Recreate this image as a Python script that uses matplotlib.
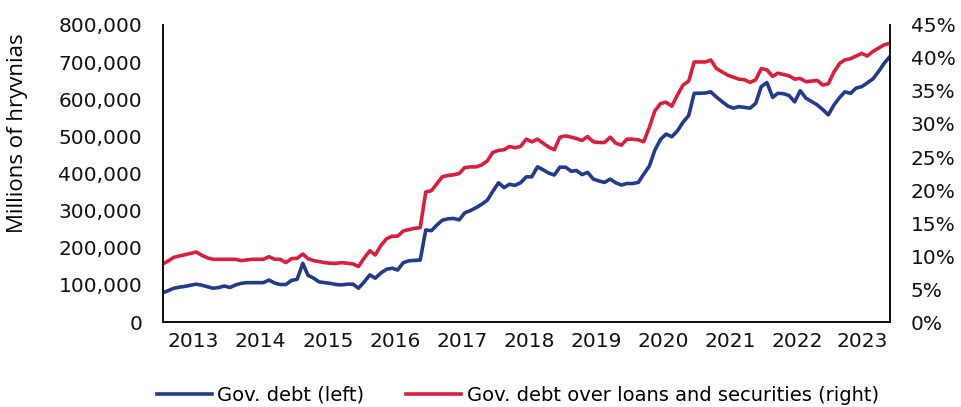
#!/usr/bin/env python

import numpy as np
import pandas as pd
import matplotlib
matplotlib.use('Agg')
import matplotlib.pyplot as plt
from matplotlib.ticker import FuncFormatter, MultipleLocator

# monthly, Jan 2013 .. Nov 2023
# government debt, thousands of millions of hryvnias (scaled below)
gov_debt_k = [
    79, 85, 91, 94, 96, 99, 102, 99, 95, 91, 93, 97,            # 2013
    93, 100, 104, 106, 106, 106, 106, 113, 105, 101, 101, 112,  # 2014
    115, 158, 126, 118, 108, 106, 104, 101, 100, 102, 102, 91,  # 2015
    108, 127, 118, 132, 142, 145, 140, 160, 165, 166, 167, 248, # 2016
    246, 262, 274, 278, 279, 275, 294, 300, 308, 317, 328, 352, # 2017
    375, 362, 371, 368, 375, 391, 391, 418, 410, 401, 396, 417, # 2018
    417, 406, 408, 397, 403, 385, 380, 376, 385, 375, 369, 373, # 2019
    373, 376, 398, 420, 463, 492, 506, 499, 515, 538, 556, 616, # 2020
    616, 617, 620, 606, 594, 582, 576, 580, 578, 576, 589, 634, # 2021
    645, 605, 616, 615, 610, 593, 623, 603, 594, 585, 572, 558, # 2022
    585, 605, 620, 616, 630, 634, 644, 655, 675, 697, 715,      # 2023
]

# gov. debt over loans and securities, %
debt_share = [
    8.8, 9.3, 9.8, 10.0, 10.2, 10.4, 10.6, 10.1, 9.7, 9.5, 9.5, 9.5,
    9.5, 9.5, 9.3, 9.4, 9.5, 9.5, 9.5, 9.9, 9.5, 9.5, 9.0, 9.6,
    9.65, 10.3, 9.6, 9.3, 9.15, 9.0, 8.9, 8.9, 9.0, 8.9, 8.8, 8.4,
    9.7, 10.8, 10.15, 11.6, 12.6, 13.0, 13.0, 13.8, 14.0, 14.2, 14.3, 19.7,
    19.9, 21.0, 22.0, 22.2, 22.3, 22.5, 23.4, 23.5, 23.5, 23.8, 24.4, 25.7,
    26.0, 26.1, 26.6, 26.4, 26.6, 27.7, 27.3, 27.7, 27.1, 26.5, 26.1, 28.0,
    28.2, 28.0, 27.8, 27.5, 28.1, 27.3, 27.2, 27.2, 28.0, 27.1, 26.8, 27.7,
    27.7, 27.6, 27.3, 29.5, 32.0, 33.1, 33.3, 32.7, 34.4, 35.9, 36.5, 39.4,
    39.4, 39.4, 39.7, 38.4, 37.9, 37.4, 37.1, 36.8, 36.7, 36.3, 36.7, 38.4,
    38.2, 37.2, 37.7, 37.5, 37.3, 36.8, 36.9, 36.4, 36.5, 36.6, 35.9, 36.1,
    37.9, 39.2, 39.7, 39.9, 40.3, 40.7, 40.3, 41.0, 41.5, 42.0, 42.2,
]

years = list(range(2013, 2024))

navy = '#243a8b'
red = '#d71f3f'

plt.rcParams['font.family'] = ['DejaVu Sans']
plt.rcParams['font.size'] = 14

dates = pd.date_range('2013-01-01', periods=len(gov_debt_k), freq='MS')
debt = np.array(gov_debt_k) * 1000.0

fig = plt.figure(figsize=(9.61, 4.07), dpi=100)
ax = fig.add_axes([0.1696, 0.2088, 0.7564, 0.7298])
ax2 = ax.twinx()

l1, = ax.plot(dates, debt, color=navy, lw=2.6, solid_joinstyle='round')
l2, = ax2.plot(dates, debt_share, color=red, lw=2.6, solid_joinstyle='round')

ax.set_xlim(dates[0], dates[-1])
ax.set_ylim(0, 800000)
ax2.set_ylim(0, 45)
ax.yaxis.set_major_locator(MultipleLocator(100000))
ax2.yaxis.set_major_locator(MultipleLocator(5))
ax.yaxis.set_major_formatter(FuncFormatter(lambda v, p: '{:,.0f}'.format(v)))
ax2.yaxis.set_major_formatter(FuncFormatter(lambda v, p: '%d%%' % v))

# year labels centred on each year's months
tick_pos = []
for y in years:
    first = pd.Timestamp('%d-01-01' % y)
    last = min(pd.Timestamp('%d-12-01' % y), dates[-1])
    tick_pos.append(first + (last - first) / 2)
ax.set_xticks(tick_pos)
ax.set_xticklabels([str(y) for y in years])

for a in (ax, ax2):
    a.tick_params(length=0, labelsize=14.5, colors='#111111')
    a.spines['top'].set_visible(False)
    for s in ('left', 'right', 'bottom'):
        a.spines[s].set_linewidth(1.3)
        a.spines[s].set_color('#111111')
ax.tick_params(axis='x', pad=7)
ax.tick_params(axis='y', pad=15)
ax2.tick_params(axis='y', pad=15)

ax.set_ylabel('Millions of hryvnias', fontsize=16, family=['Open Sans', 'DejaVu Sans'],
              ha='center', va='center')
ax.yaxis.set_label_coords(-0.2, 0.635)

fig.legend([l1, l2], ['Gov. debt (left)', 'Gov. debt over loans and securities (right)'],
           loc='center', bbox_to_anchor=(0.539, 0.029), ncol=2, frameon=False,
           fontsize=14, handlelength=2.8, columnspacing=2.15, handletextpad=0.3)

plt.savefig('out.png', dpi=100)
